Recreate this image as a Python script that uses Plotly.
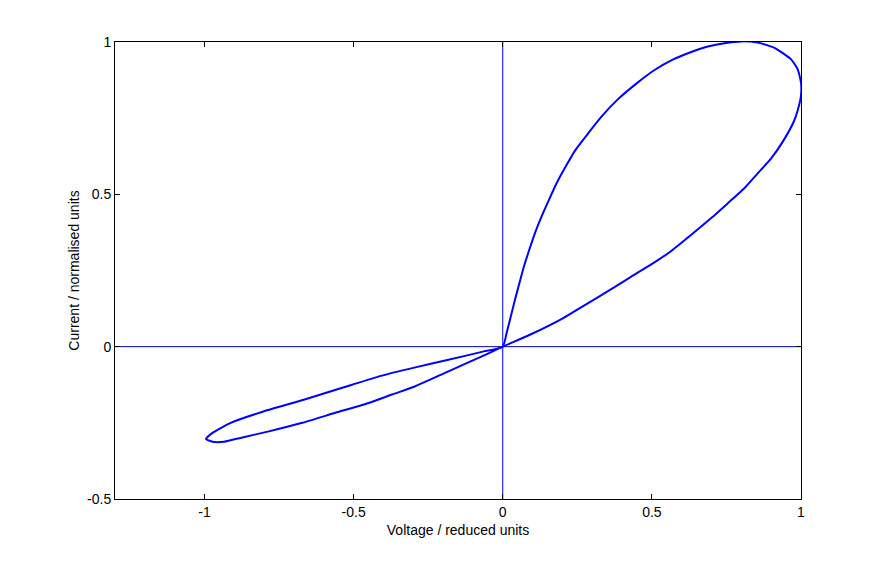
import plotly.graph_objects as go

# Loop: origin -> upper lobe -> back to origin -> lower lobe -> origin
voltage = [0.0, 0.013, 0.027, 0.041, 0.056, 0.071, 0.089, 0.108, 0.130, 0.155, 0.181,
           0.211, 0.244, 0.287, 0.331, 0.384, 0.450, 0.509, 0.570, 0.632, 0.688, 0.743,
           0.800, 0.855, 0.911, 0.967, 0.989, 1.0, 1.0, 0.989, 0.976, 0.939, 0.900,
           0.855, 0.810, 0.755, 0.699, 0.632, 0.565, 0.498, 0.431, 0.376, 0.264,
           0.203, 0.091, 0.0,
           -0.070, -0.182, -0.293, -0.371, -0.449, -0.561, -0.672, -0.784, -0.873,
           -0.934, -0.973, -0.995, -0.973, -0.912, -0.800, -0.667, -0.505, -0.405,
           -0.293, -0.182, -0.070, 0.0]
current = [0.0, 0.045, 0.099, 0.154, 0.209, 0.263, 0.318, 0.373, 0.427, 0.482, 0.537,
           0.591, 0.646, 0.701, 0.755, 0.810, 0.865, 0.908, 0.942, 0.967, 0.985, 0.996,
           1.002, 0.998, 0.981, 0.943, 0.910, 0.867, 0.823, 0.776, 0.739, 0.673, 0.618,
           0.569, 0.520, 0.471, 0.422, 0.367, 0.314, 0.270, 0.230, 0.196, 0.130,
           0.094, 0.039, 0.0,
           -0.032, -0.081, -0.130, -0.157, -0.185, -0.217, -0.250, -0.278, -0.298,
           -0.312, -0.312, -0.303, -0.283, -0.250, -0.212, -0.174, -0.125, -0.095,
           -0.068, -0.043, -0.017, 0.0]

x_ticks = [-1, -0.5, 0, 0.5, 1]
x_labels = ["-1", "-0.5", "0", "0.5", "1"]
y_ticks = [-0.5, 0, 0.5, 1]
y_labels = ["-0.5", "0", "0.5", "1"]

fig = go.Figure()

# zero lines
fig.add_hline(y=0, line=dict(color="#0000a0", width=1), layer="below")
fig.add_vline(x=0, line=dict(color="#0000ff", width=1), layer="below")

fig.add_trace(go.Scatter(
    x=voltage, y=current,
    mode="lines",
    line=dict(color="#0000ff", width=2, shape="spline", smoothing=0.5),
    hoverinfo="skip",
    showlegend=False,
))

axis_common = dict(
    showline=True, linecolor="black", linewidth=1, mirror="ticks",
    ticks="inside", ticklen=5, tickcolor="black",
    showgrid=False, zeroline=False,
    tickfont=dict(family="Liberation Sans", size=14, color="black"),
)

fig.update_xaxes(
    range=[-1.3, 1], tickvals=x_ticks, ticktext=x_labels,
    title=dict(text="Voltage / reduced units", standoff=6,
               font=dict(family="Liberation Sans", size=14, color="black")),
    **axis_common
)
fig.update_yaxes(
    range=[-0.5, 1], tickvals=y_ticks, ticktext=y_labels,
    title=dict(text="Current / normalised units", standoff=4,
               font=dict(family="Liberation Sans", size=14, color="black")),
    **axis_common
)

# page body adds an 8px offset, margins compensate for it
fig.update_layout(
    width=885, height=562,
    margin=dict(l=107, r=92, t=34, b=71),
    paper_bgcolor="white",
    plot_bgcolor="white",
)

fig.write_html("out.html")
